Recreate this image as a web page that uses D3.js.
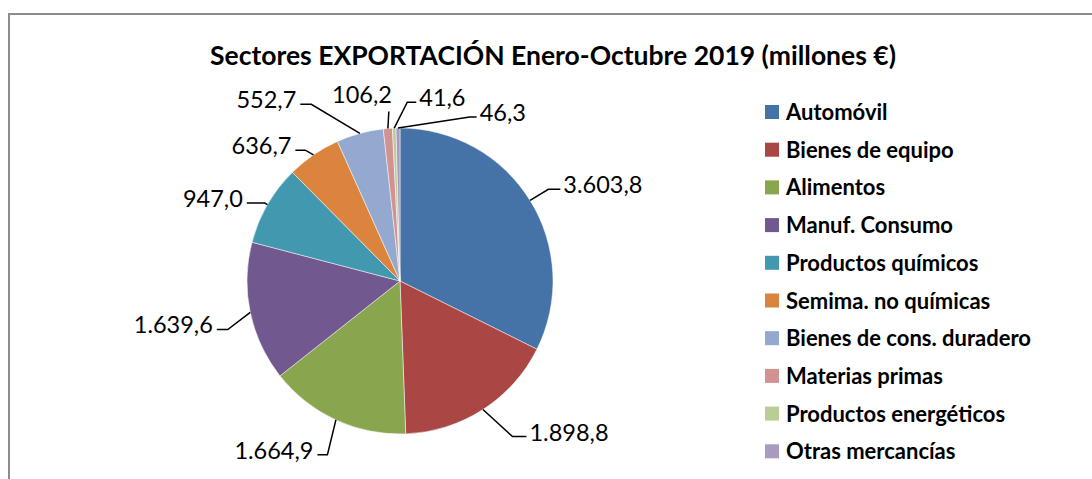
<!DOCTYPE html>
<html>
<head>
<meta charset="utf-8">
<script src="https://cdn.jsdelivr.net/npm/d3@7"></script>
<style>
	html, body { margin: 0; padding: 0; background: #fff; }
	svg { display: block; }
</style>
</head>
<body>
<div class="c-svg"></div>
<script>
//DATA
//-------------------------------------------------------------------------
const categories = ["Automóvil", "Bienes de equipo", "Alimentos", "Manuf. Consumo", "Productos químicos",
	"Semima. no químicas", "Bienes de cons. duradero", "Materias primas", "Productos energéticos", "Otras mercancías"];
const values = [3603.8, 1898.8, 1664.9, 1639.6, 947.0, 636.7, 552.7, 106.2, 41.6, 46.3];
const colors = ["#4572A7", "#AA4643", "#89A54E", "#71588F", "#4198AF",
	"#DB843D", "#93A9CF", "#D19392", "#B9CD96", "#A99BBD"];
const title = "Sectores EXPORTACIÓN Enero-Octubre 2019 (millones €)";

//LAYOUT
//-------------------------------------------------------------------------
const opts = { width: 1092, height: 479 };
const pieBox = { cx: 400, cy: 281, r: 153 };
const legend = { x: 765, y: 105, step: 37.7, box: 14 };

//label leader tweaks (Excel "best fit" spreads the small slices)
const labelNudge = [[-3, 2], [16, 6], [2, 12], [2, 12], [19, 11], [6, 16], [-42, -5], [3, 8], [14, -1], [72, 14]];
const labelHook = [12, 14, 10, 11, 18, 10, 11, 0, 9, 7];

//number format es: 3.603,8
const fmt = v => {
	const s = d3.format(",.1f")(v);
	return s.replace(/,/g, "#").replace(".", ",").replace(/#/g, ".");
};

const svg = d3.select(".c-svg")
	.append("svg")
	.attr("width", opts.width)
	.attr("height", opts.height);

//frame
svg.append("rect")
	.attr("x", 9)
	.attr("y", 14)
	.attr("width", opts.width + 20)
	.attr("height", opts.height + 20)
	.attr("fill", "#fff")
	.attr("stroke", "#8c8c8c")
	.attr("stroke-width", 2);

//title
svg.append("text")
	.attr("x", 553)
	.attr("y", 65)
	.attr("text-anchor", "middle")
	.attr("font-family", "Lato, 'Open Sans', sans-serif")
	.attr("font-weight", "bold")
	.attr("font-size", 26.5)
	.attr("fill", "#000")
	.text(title);

//PIE
//-------------------------------------------------------------------------
const data = categories.map((c, i) => ({ name: c, value: values[i], color: colors[i] }));

const pie = d3.pie()
	.sort(null)
	.value(d => d.value);

const arcs = pie(data);

const arc = d3.arc()
	.innerRadius(0)
	.outerRadius(pieBox.r);

const g = svg.append("g")
	.attr("transform", `translate(${pieBox.cx} ${pieBox.cy})`);

g.selectAll("path.slice")
	.data(arcs)
	.join("path")
	.attr("class", "slice")
	.attr("d", arc)
	.attr("fill", d => d.data.color)
	.attr("stroke", "#fff")
	.attr("stroke-width", 0.5);

//LABELS
//-------------------------------------------------------------------------
const polar = (a, rr) => [Math.sin(a) * rr, -Math.cos(a) * rr];

const labels = g.append("g").attr("class", "labels");

arcs.forEach((d, i) => {
	const mid = (d.startAngle + d.endAngle) / 2;
	const edge = polar(mid, pieBox.r);
	const base = polar(mid, pieBox.r + 25);
	const e = [base[0] + labelNudge[i][0], base[1] + labelNudge[i][1]];
	const right = e[0] > 0;
	const hook = labelHook[i];
	const h = [e[0] + (right ? hook : -hook), e[1]];

	labels.append("path")
		.attr("d", d3.line()([edge, e, h]))
		.attr("fill", "none")
		.attr("stroke", "#000")
		.attr("stroke-width", 1.5);

	const t = labels.append("text")
		.attr("font-family", "Lato, 'Open Sans', sans-serif")
		.attr("font-size", 23.5)
		.attr("fill", "#000")
		.text(fmt(d.data.value));

	if (hook === 0) {
		t.attr("x", e[0] + 3).attr("y", e[1] - 9).attr("text-anchor", "end");
	} else {
		t.attr("x", h[0] + (right ? 3 : -4))
			.attr("y", h[1] + 4)
			.attr("text-anchor", right ? "start" : "end");
	}
});

//LEGEND
//-------------------------------------------------------------------------
const leg = svg.append("g")
	.attr("transform", `translate(${legend.x} ${legend.y})`);

const rows = leg.selectAll("g.row")
	.data(data)
	.join("g")
	.attr("class", "row")
	.attr("transform", (d, i) => `translate(0 ${i * legend.step})`);

rows.append("rect")
	.attr("width", legend.box)
	.attr("height", legend.box)
	.attr("fill", d => d.color);

rows.append("text")
	.attr("x", 21)
	.attr("y", 15)
	.attr("font-family", "Lato, 'Open Sans', sans-serif")
	.attr("font-weight", "bold")
	.attr("font-size", 22)
	.attr("fill", "#000")
	.text(d => d.name);
</script>
</body>
</html>
